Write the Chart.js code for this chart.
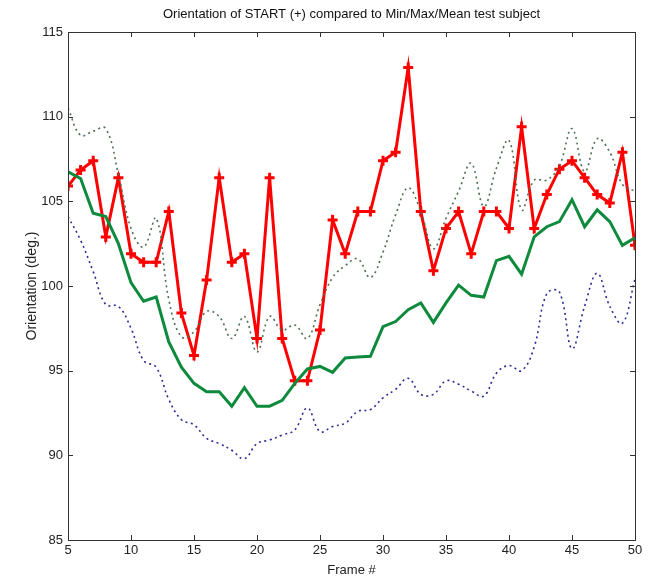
<!DOCTYPE html>
<html>
<head>
<meta charset="utf-8">
<script src="https://cdn.jsdelivr.net/npm/chart.js@4.4.1/dist/chart.umd.min.js"></script>
<style>
  html, body { margin: 0; padding: 0; background: #fff; }
  #wrap { width: 650px; height: 578px; }
</style>
</head>
<body>
<div id="wrap"><canvas id="orientChart" width="650" height="578"></canvas></div>
<script>
const frames = [5,6,7,8,9,10,11,12,13,14,15,16,17,18,19,20,21,22,23,24,25,26,27,28,29,30,31,32,33,34,35,36,37,38,39,40,41,42,43,44,45,46,47,48,49,50];

const startVals = [105.9,106.85,107.4,102.9,106.4,101.9,101.4,101.4,104.4,98.4,95.9,100.35,106.4,101.4,101.9,96.9,106.4,96.9,94.4,94.4,97.4,103.9,101.9,104.4,104.4,107.4,107.9,112.9,104.4,100.9,103.4,104.4,101.9,104.4,104.4,103.4,109.4,103.4,105.4,106.9,107.4,106.4,105.4,104.9,107.9,102.4];

const meanVals = [106.75,106.35,104.3,104.1,102.5,100.2,99.1,99.35,96.7,95.2,94.25,93.75,93.75,92.9,94.0,92.9,92.9,93.25,94.25,95.1,95.25,94.9,95.75,95.8,95.85,97.6,97.9,98.6,99.0,97.85,99.0,100.05,99.45,99.35,101.5,101.75,100.7,102.9,103.5,103.8,105.1,103.5,104.5,103.8,102.4,102.85];

const maxVals = [110.5,108.9,109.15,109.3,106.6,103.4,102.3,104.0,99.2,97.0,97.3,98.5,98.2,96.9,98.2,96.1,98.2,97.4,97.7,96.9,98.9,100.5,101.2,101.6,100.5,102.0,104.2,105.8,104.4,102.2,104.0,105.6,107.25,104.7,106.95,108.6,104.5,106.25,106.25,107.1,109.3,106.75,108.7,107.9,106.0,105.6];

const minVals = [104.1,102.7,100.85,98.9,98.8,97.5,95.6,95.2,93.3,92.1,91.8,91.0,90.7,90.3,89.8,90.7,90.9,91.2,91.5,92.8,91.4,91.7,91.9,92.6,92.7,93.4,93.9,94.55,93.6,93.6,94.4,94.2,93.8,93.5,94.85,95.3,95.0,96.4,99.55,99.65,96.3,98.8,100.75,98.8,97.8,100.4];

const xTicks = [5,10,15,20,25,30,35,40,45,50];
const yTicks = [85,90,95,100,105,110,115];

const pts = vals => frames.map((f, i) => ({ x: f, y: vals[i] }));

const uiFont = "'Liberation Sans', Arial, sans-serif";

// matlab style box with inward ticks
const boxTicks = {
    id: 'boxTicks',
    afterDatasetsDraw(chart) {
        const { ctx, chartArea: a, scales } = chart;
        ctx.save();
        ctx.strokeStyle = '#333';
        ctx.lineWidth = 1;
        ctx.beginPath();
        xTicks.forEach(v => {
            const px = Math.round(scales.x.getPixelForValue(v)) + 0.5;
            ctx.moveTo(px, a.bottom); ctx.lineTo(px, a.bottom - 5);
            ctx.moveTo(px, a.top); ctx.lineTo(px, a.top + 5);
        });
        yTicks.forEach(v => {
            const py = Math.round(scales.y.getPixelForValue(v)) + 0.5;
            ctx.moveTo(a.left, py); ctx.lineTo(a.left + 5, py);
            ctx.moveTo(a.right, py); ctx.lineTo(a.right - 5, py);
        });
        ctx.stroke();
        ctx.strokeRect(Math.round(a.left) + 0.5, Math.round(a.top) + 0.5, Math.round(a.right - a.left), Math.round(a.bottom - a.top));
        ctx.restore();
    }
};

const ctx = document.getElementById('orientChart').getContext('2d');
new Chart(ctx, {
    type: 'line',
    data: {
        datasets: [
            { label: 'Max', data: pts(maxVals), borderColor: '#4f6f52', borderWidth: 1.6, borderDash: [2, 3.5], pointRadius: 0, tension: 0.4, fill: false },
            { label: 'Min', data: pts(minVals), borderColor: '#2c2c95', borderWidth: 1.6, borderDash: [2, 3.5], pointRadius: 0, tension: 0.4, fill: false },
            { label: 'Mean', data: pts(meanVals), borderColor: '#0d8a3c', borderWidth: 3, pointRadius: 0, tension: 0, fill: false },
            { label: 'START', data: pts(startVals), borderColor: '#ff0000', borderWidth: 3, pointStyle: 'cross', pointRadius: 5, pointBorderWidth: 3, pointBorderColor: '#ff0000', tension: 0, fill: false }
        ]
    },
    options: {
        responsive: false,
        animation: false,
        layout: { padding: { top: 0, right: 15, left: 0, bottom: 0 } },
        plugins: {
            legend: { display: false },
            tooltip: { enabled: false },
            title: {
                display: true,
                fullSize: false,
                text: 'Orientation of START (+) compared to Min/Max/Mean test subject',
                color: '#111',
                font: { family: uiFont, size: 13, weight: 'normal' },
                padding: { top: 7, bottom: 9.4 }
            }
        },
        scales: {
            x: {
                type: 'linear', min: 5, max: 50,
                afterFit: s => { s.height = 38; },
                afterBuildTicks: s => { s.ticks = xTicks.map(v => ({ value: v })); },
                grid: { display: false, drawTicks: false },
                border: { display: false },
                ticks: { color: '#222', padding: 3, font: { family: uiFont, size: 13 } },
                title: { display: true, text: 'Frame #', color: '#222', padding: { top: 0, bottom: 0 }, font: { family: uiFont, size: 13 } }
            },
            y: {
                min: 85, max: 115,
                afterFit: s => { s.width = 68; },
                afterBuildTicks: s => { s.ticks = yTicks.map(v => ({ value: v })); },
                grid: { display: false, drawTicks: false },
                border: { display: false },
                ticks: { color: '#222', padding: 5, font: { family: uiFont, size: 13 } },
                title: { display: true, text: 'Orientation (deg.)', color: '#222', padding: { top: 24, bottom: 0 }, font: { family: uiFont, size: 14 } }
            }
        }
    },
    plugins: [boxTicks]
});
</script>
</body>
</html>
